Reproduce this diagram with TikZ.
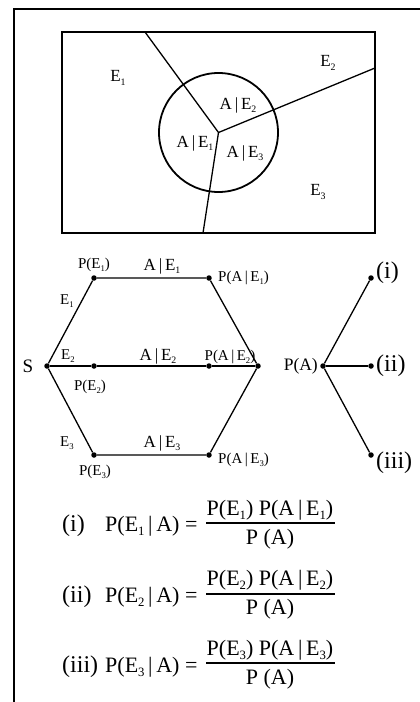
\documentclass[tikz,border=0pt]{standalone}
\usepackage{fontspec}
\setmainfont{Liberation Serif}
\usepackage{graphicx}
\usepackage{tikz}
\newcommand{\Es}[1]{E\raisebox{-0.45ex}{\scalebox{0.58}{#1}}}
\newcommand{\gvn}{\,|\,}
\tikzset{
  pnt/.style={circle,fill=black,inner sep=0pt,minimum size=5.5pt},
  lnk/.style={line width=1.3pt},
  smalllbl/.style={font=\fontsize{15}{18}\selectfont,inner sep=0pt},
  midlbl/.style={font=\fontsize{17}{20}\selectfont,inner sep=0pt},
  eqlbl/.style={font=\fontsize{22}{26}\selectfont,inner sep=0pt},
  numlbl/.style={font=\fontsize{24}{28}\selectfont,inner sep=0pt}
}

\begin{document}
\begin{tikzpicture}[x=1pt,y=-1pt]
  \useasboundingbox (0,0) rectangle (420,702);
  % Frame
  \draw[line width=1.6pt] (14,702) -- (14,9) -- (420,9);
  % Venn diagram
  \draw[lnk] (62,32) rectangle (375,233);
  \coordinate (o)  at (218.5,132.5);
  \coordinate (t1) at (145,32);
  \coordinate (t2) at (375,68);
  \coordinate (t3) at (203,233);
  \draw[lnk] (t1) -- (o) -- (t2);
  \draw[lnk] (o) -- (t3);
  \draw[line width=1.8pt] (o) circle[radius=59.5pt];
  \node[midlbl] (ve1) at (118,78)  {\Es1};
  \node[midlbl] (ve2) at (328,63)  {\Es2};
  \node[midlbl] (ve3) at (318,192) {\Es3};
  \node[midlbl] (va1) at (195,143) {A\gvn\Es1};
  \node[midlbl] (va2) at (238,105) {A\gvn\Es2};
  \node[midlbl] (va3) at (245,153) {A\gvn\Es3};
  % Tree diagram
  \node[pnt] (s)  at (47,366)  {};
  \node[pnt] (e1) at (94,278)  {};
  \node[pnt] (a1) at (209,278) {};
  \node[pnt] (e2) at (94,366)  {};
  \node[pnt] (a2) at (209,366) {};
  \node[pnt] (r)  at (258,366) {};
  \node[pnt] (e3) at (94,455)  {};
  \node[pnt] (a3) at (209,455) {};
  \draw[lnk] (s) -- (e1) -- (a1) -- (r);
  \draw[lnk] (s) -- (e2) -- (a2) -- (r);
  \draw[lnk] (s) -- (e3) -- (a3) -- (r);
  \node[font=\fontsize{19}{22}\selectfont,inner sep=0pt] (sl) at (28,366) {S};
  % Branch 1
  \node[smalllbl] (pe1) at (94,265)  {P(\Es1)};
  \node[midlbl]   (ae1) at (162,266) {A\gvn\Es1};
  \node[smalllbl,anchor=west] (pae1) at (218,278) {P(A\gvn\Es1)};
  \node[smalllbl] (le1) at (67,301)  {\Es1};
  % Branch 2
  \node[smalllbl] (pe2) at (90,387)  {P(\Es2)};
  \node[midlbl]   (ae2) at (158,356) {A\gvn\Es2};
  \node[smalllbl] (pae2) at (230,357) {P(A\gvn\Es2)};
  \node[smalllbl] (le2) at (68,356)  {\Es2};
  % Branch 3
  \node[smalllbl] (pe3) at (95,472)  {P(\Es3)};
  \node[midlbl]   (ae3) at (162,443) {A\gvn\Es3};
  \node[smalllbl,anchor=west] (pae3) at (218,460) {P(A\gvn\Es3)};
  \node[smalllbl] (le3) at (67,443)  {\Es3};
  % P(A) fan
  \node[pnt] (pa)   at (323,366) {};
  \node[pnt] (ci)   at (371,278) {};
  \node[pnt] (cii)  at (371,366) {};
  \node[pnt] (ciii) at (371,455) {};
  \draw[lnk] (pa) -- (ci);
  \draw[lnk] (pa) -- (cii);
  \draw[lnk] (pa) -- (ciii);
  \node[font=\fontsize{17.5}{20}\selectfont,inner sep=0pt,anchor=east] (pal) at (318,366) {P(A)};
  \node[numlbl,anchor=west] (cil)   at (376,273) {(i)};
  \node[numlbl,anchor=west] (ciil)  at (376,366) {(ii)};
  \node[numlbl,anchor=west] (ciiil) at (376,463) {(iii)};
  % Equation (i)
  \node[numlbl,anchor=west] (n1) at (62,526)  {(i)};
  \node[eqlbl,anchor=west]  (q1) at (105,526) {P(\Es1\gvn A) =};
  \node[eqlbl] (f1) at (270,510) {P(\Es1) P(A\gvn\Es1)};
  \node[eqlbl] (d1) at (270,539) {P (A)};
  \draw[lnk] (206,523) -- (335,523);
  % Equation (ii)
  \node[numlbl,anchor=west] (n2) at (62,597)  {(ii)};
  \node[eqlbl,anchor=west]  (q2) at (105,597) {P(\Es2\gvn A) =};
  \node[eqlbl] (f2) at (270,580) {P(\Es2) P(A\gvn\Es2)};
  \node[eqlbl] (d2) at (270,609) {P (A)};
  \draw[lnk] (206,594) -- (335,594);
  % Equation (iii)
  \node[numlbl,anchor=west] (n3) at (62,667)  {(iii)};
  \node[eqlbl,anchor=west]  (q3) at (105,667) {P(\Es3\gvn A) =};
  \node[eqlbl] (f3) at (270,650) {P(\Es3) P(A\gvn\Es3)};
  \node[eqlbl] (d3) at (270,679) {P (A)};
  \draw[lnk] (206,663) -- (335,663);
\end{tikzpicture}
\end{document}
